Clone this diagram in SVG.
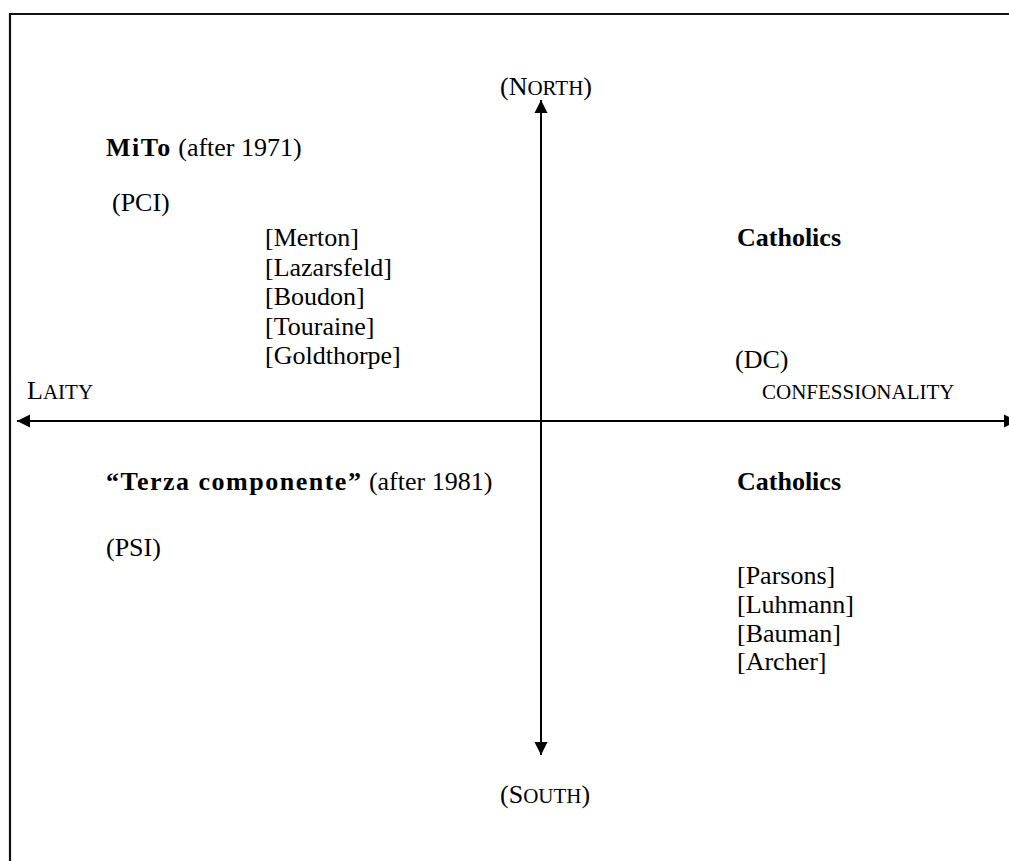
<svg xmlns="http://www.w3.org/2000/svg" width="1009" height="861" viewBox="0 0 1009 861">
<style>
text { font-family: "Liberation Serif", "Times New Roman", serif; font-size: 26px; fill: #000; }
.b { font-weight: bold; }
.bs { font-weight: bold; letter-spacing: 1.5px; }
.sc { font-size: 21px; }
.ax { stroke: #000; stroke-width: 2; fill: none; }
</style>
<defs>
<marker id="ah" markerUnits="userSpaceOnUse" markerWidth="14" markerHeight="14" viewBox="0 0 14 14" refX="13" refY="7" orient="auto-start-reverse">
<path d="M0,0.5 L13,7 L0,13.5 Z" fill="#000"/>
</marker>
</defs>
<rect width="1009" height="861" fill="#fff"/>
<path d="M10,875 L10,14 L1020,14" fill="none" stroke="#111" stroke-width="2.2"/>
<g id="connectors">
<line class="ax" x1="17" y1="421" x2="1017" y2="421" marker-start="url(#ah)" marker-end="url(#ah)"/>
<line class="ax" x1="541" y1="100" x2="541" y2="755" marker-start="url(#ah)" marker-end="url(#ah)"/>
</g>
<g id="north"><text x="500" y="95">(N<tspan class="sc">ORTH</tspan>)</text></g>
<g id="south"><text x="500" y="803">(S<tspan class="sc">OUTH</tspan>)</text></g>
<g id="laity"><text x="27" y="399">L<tspan class="sc">AITY</tspan></text></g>
<g id="confessionality"><text class="sc" x="762" y="399">CONFESSIONALITY</text></g>
<g id="mito">
<text x="106" y="156"><tspan class="bs">MiTo</tspan> (after 1971)</text>
<text x="112" y="211">(PCI)</text>
</g>
<g id="nw-list">
<text x="265" y="246">[Merton]</text>
<text x="265" y="275.5">[Lazarsfeld]</text>
<text x="265" y="305">[Boudon]</text>
<text x="265" y="334.5">[Touraine]</text>
<text x="265" y="364">[Goldthorpe]</text>
</g>
<g id="catholics-ne">
<text class="b" x="737" y="246">Catholics</text>
<text x="735" y="368">(DC)</text>
</g>
<g id="terza">
<text x="106" y="490"><tspan class="bs">“Terza componente”</tspan> (after 1981)</text>
<text x="106" y="556">(PSI)</text>
</g>
<g id="catholics-se">
<text class="b" x="737" y="490">Catholics</text>
</g>
<g id="se-list">
<text x="737" y="584">[Parsons]</text>
<text x="737" y="613">[Luhmann]</text>
<text x="737" y="642">[Bauman]</text>
<text x="737" y="670">[Archer]</text>
</g>
</svg>
